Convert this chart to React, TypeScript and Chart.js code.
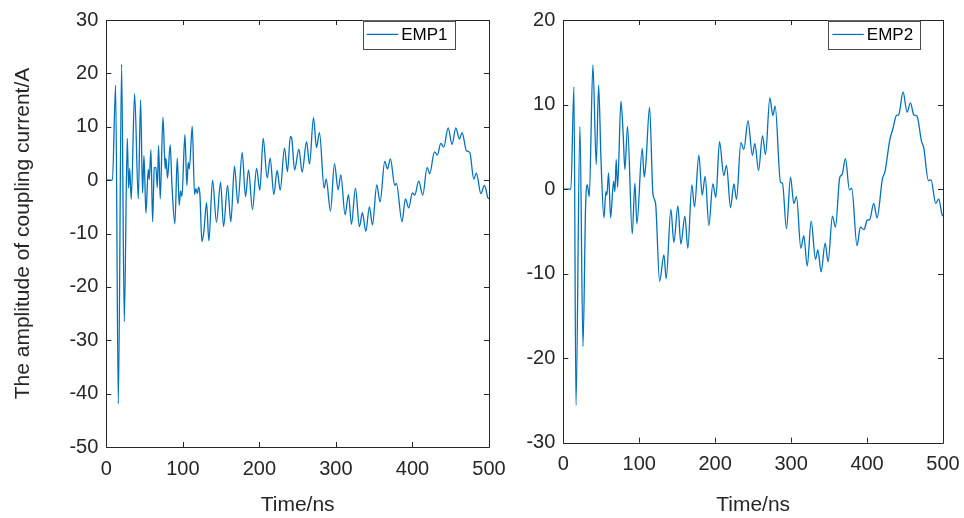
import React, { useEffect, useRef } from "react";
import { Chart, registerables } from "chart.js";

Chart.register(...registerables);

// ---------------- data ----------------
const TIME_EMP1 = [
  0, 8, 12.2, 15.7, 20, 23.5, 27.4, 29.2, 30.5, 32.6, 37, 41.8, 44.8, 47.4, 49.2, 51.8, 54.8, 56.1, 58.3, 60.5,
  62.7, 64.8, 66.6, 68.3, 70.5, 74, 77, 77.9, 80, 83.5, 85.7, 89.6, 92.7, 95.3, 97, 98.8, 102.7, 105.3, 107, 108.5,
  112.3, 115.3, 117, 119, 120.5, 122.3, 124.9, 127.5, 131, 134, 138.8, 144, 149.3, 153.2, 158.4, 162.7, 167.5, 171.9, 177.5, 181.9,
  185.8, 191, 196.3, 200.6, 205, 210.2, 214.1, 218.9, 223.2, 227.2, 232.8, 236.7, 240.5, 242.5, 246, 251.6, 255.9, 261.6, 265.5, 270.7,
  274.6, 278.5, 284.6, 287.3, 292.9, 298.1, 302.9, 306.4, 312, 316.4, 320.3, 325.5, 330.7, 334.6, 339, 343.8, 347.7, 353.4, 357.7, 363.8,
  367.3, 371.2, 376.9, 379, 386.4, 390.8, 395.1, 399.9, 403, 408.2, 413.5, 419.1, 422.6, 428.7, 432.6, 437, 440.9, 446.6, 451.8, 456.6,
  461.4, 464.9, 470.5, 474.9, 480.1, 483.6, 489.3, 494.1, 498.5, 500,
];
const EMP1 = [
  0, 0, 17.8, -41.9, 21.7, -26.5, 7.8, -1.5, 2.2, -3.6, 16.2, -3.5, 15, -2.4, 4.6, -6.2, 2, 0.1, 5.7, -7.8,
  2.3, 2.4, -1.4, 6.5, -3.5, 11.8, 2.1, 4.1, 0.4, 6.6, -0.7, -8.2, 4.1, -4.7, -2, -3.1, 8.5, -1, 3.3, 2.1,
  10.1, -2.7, -1.6, -2.5, -1.3, -2.7, -11.5, -9.6, -4.2, -11.4, 0, -7.9, -0.4, -8.7, -1, -7.8, 2.6, -4.4, 5.2, -3.1,
  1.9, -5.5, 2.2, -1.9, 7.8, 0.4, 4.1, -2.7, 1.8, -1.9, 6, 1.6, 8.2, 7.6, 1.9, 5.8, 1.5, 7.2, 3, 11.7,
  6.1, 8.9, -1.5, 0.2, -5.8, 3.1, -1.8, 1, -6.5, -2.7, -8.3, -1.5, -8.7, -6.1, -9.6, -5, -8.4, -0.9, -4.1, 3.5,
  2.1, 4, -1, -0.6, -7.8, -3.5, -5.2, -2.4, -2.8, -0.2, -2.8, 2.4, 1.2, 5.3, 4.7, 6.9, 6.2, 9.8, 6.7, 9.8,
  7.7, 8.9, 5.5, 5.2, 0.2, 1.3, -2.5, -1, -3.3, -3.5,
];

const TIME_EMP2 = [
  0, 10, 14, 16.7, 21.9, 25.9, 29.4, 31.6, 34.2, 39, 43.4, 46.5, 49.6, 53.5, 56.1, 57.4, 59.6, 62.3, 66.2, 67.9,
  69.7, 71.5, 75.9, 78.9, 81.1, 84.6, 90.8, 94.3, 96.9, 103.9, 106.6, 108.8, 113.6, 118, 121.5, 126.8, 132.5, 135.5, 141.7, 145.6,
  150.9, 154.8, 160.1, 164, 169.3, 172.8, 178.5, 182.9, 186.8, 191.7, 196.9, 200.9, 205.7, 211.4, 214.9, 220.2, 224.6, 228.1, 233.8, 237.8,
  243.2, 249, 252.2, 257.1, 262.3, 266.3, 272, 275.9, 279, 286, 288.6, 293.9, 299.2, 303.6, 307.1, 312.8, 316.7, 321.2, 326.4, 332.1,
  335.2, 339.5, 344.8, 348.7, 354.4, 358.4, 364.1, 367.1, 371.5, 376.8, 379.8, 386.8, 391.2, 396, 400, 403.5, 408.8, 413.2, 420.2, 423.7,
  429.9, 434.2, 438.6, 441.7, 447.4, 452.7, 457.1, 461.5, 465.9, 471.6, 474.6, 480.8, 484.3, 490.4, 494.4, 498.7, 500,
];
const EMP2 = [
  0, 0, 12.1, -25.6, 7.4, -18.6, -1.9, 0.5, -0.9, 14.7, 2.9, 12.3, 3.6, -3.4, -0.3, -0.7, 1.9, -3.4, 0.9, -0.3,
  3.5, 0.2, 10.4, 6.4, 2.3, 7.4, -5.3, 0.7, -4.1, 4.8, 1.4, 3.1, 9.7, -0.5, -1.7, -10.9, -7.8, -10.6, -2.4, -6.3,
  -2, -6.5, -3.2, -7, 0.5, -2.1, 4, -0.7, 1.5, -4.3, 0.6, -1, 5.6, 1.6, 2.8, -2.2, 0.6, -1.2, 5.5, 4.7,
  8.1, 4, 5.4, 2.2, 6.3, 4.1, 10.8, 8.7, 9.8, 0.8, 0.7, -4.7, 1.4, -1.7, -0.9, -7, -5.5, -9.1, -3.8, -8.3,
  -7.2, -9.8, -6.4, -8.6, -3.2, -4.5, 1.4, 1.7, 3.6, -0.1, 0.1, -6.7, -4.5, -4.8, -3.7, -3.6, -1.7, -3.4, 1.2, 2.1,
  5.8, 7.2, 8.7, 8.8, 11.5, 9.1, 10.2, 8.8, 8.6, 5.7, 4.9, 1, 1.1, -1.7, -1.2, -3, -3.2,
];

const SERIES_NAMES = ["EMP1", "EMP2"];
const X_TICKS = [0, 100, 200, 300, 400, 500];
const Y_TICKS_EMP1 = [-50, -40, -30, -20, -10, 0, 10, 20, 30];
const Y_TICKS_EMP2 = [-30, -20, -10, 0, 10, 20];
const X_TITLE = "Time/ns";
const Y_TITLE = "The amplitude of coupling current/A";

// ---------------- styling ----------------
const FONT = "'Liberation Sans', Arial, Helvetica, sans-serif";
const AXIS_COLOR = "#262626";
const LINE_COLOR = "#0072BD";

const boxPlugin = {
  id: "boxTicks",
  afterDatasetsDraw(chart: any) {
    const { ctx, chartArea: a, scales } = chart;
    const len = 5;
    ctx.save();
    ctx.strokeStyle = AXIS_COLOR;
    ctx.lineWidth = 1;
    ctx.beginPath();
    ctx.rect(Math.round(a.left) + 0.5, Math.round(a.top) + 0.5, Math.round(a.right - a.left), Math.round(a.bottom - a.top));
    ctx.stroke();
    ctx.beginPath();
    scales.x.ticks.forEach((t: any) => {
      const px = Math.round(scales.x.getPixelForValue(t.value)) + 0.5;
      ctx.moveTo(px, a.bottom);
      ctx.lineTo(px, a.bottom - len);
      ctx.moveTo(px, a.top);
      ctx.lineTo(px, a.top + len);
    });
    scales.y.ticks.forEach((t: any) => {
      const py = Math.round(scales.y.getPixelForValue(t.value)) + 0.5;
      ctx.moveTo(a.left, py);
      ctx.lineTo(a.left + len, py);
      ctx.moveTo(a.right, py);
      ctx.lineTo(a.right - len, py);
    });
    ctx.stroke();
    ctx.restore();
  },
  afterDraw(chart: any) {
    const opts = chart.options.plugins.boxTicks;
    if (!opts) return;
    const { ctx, chartArea: a } = chart;
    const w = opts.width;
    const h = 27.5;
    const right = a.right - opts.rightOffset;
    const left = right - w;
    const top = a.top + 0.7;
    ctx.save();
    ctx.fillStyle = "#ffffff";
    ctx.fillRect(left, top, w, h);
    ctx.strokeStyle = "#4a4a4a";
    ctx.lineWidth = 1;
    ctx.strokeRect(Math.round(left) + 0.5, Math.round(top) + 0.5, Math.round(w), Math.round(h));
    const cy = top + h / 2;
    ctx.strokeStyle = LINE_COLOR;
    ctx.lineWidth = 1.2;
    ctx.beginPath();
    ctx.moveTo(left + 4, cy);
    ctx.lineTo(left + 35.5, cy);
    ctx.stroke();
    ctx.fillStyle = "#000000";
    ctx.font = `17px ${FONT}`;
    ctx.textBaseline = "middle";
    ctx.textAlign = "left";
    ctx.fillText(opts.label, left + 38.5, cy + 1);
    ctx.restore();
  },
};

type PanelProps = {
  times: number[];
  values: number[];
  label: string;
  yTicks: number[];
  showYTitle: boolean;
  canvasLeft: number;
  canvasWidth: number;
  yWidth: number;
  xHeight: number;
  padRight: number;
  legendRight: number;
  legendWidth: number;
};

function Panel(p: PanelProps) {
  const ref = useRef<HTMLCanvasElement | null>(null);
  useEffect(() => {
    if (!ref.current) return;
    const data = p.times.map((t, i) => ({ x: t, y: p.values[i] }));
    const chart = new Chart(ref.current, {
      type: "line",
      data: {
        datasets: [
          {
            label: p.label,
            data,
            borderColor: LINE_COLOR,
            borderWidth: 1.3,
            pointRadius: 0,
            fill: false,
            cubicInterpolationMode: "monotone",
          },
        ],
      },
      plugins: [boxPlugin],
      options: {
        animation: false,
        responsive: false,
        devicePixelRatio: 1,
        parsing: false as any,
        layout: { padding: { left: 0, top: 13.3, right: p.padRight, bottom: 0 } },
        plugins: {
          legend: { display: false },
          tooltip: { enabled: false },
          boxTicks: { label: p.label, rightOffset: p.legendRight, width: p.legendWidth },
        } as any,
        scales: {
          x: {
            type: "linear",
            min: X_TICKS[0],
            max: X_TICKS[X_TICKS.length - 1],
            afterBuildTicks: (s: any) => {
              s.ticks = X_TICKS.map((v) => ({ value: v }));
            },
            ticks: {
              color: AXIS_COLOR,
              font: { size: 20, family: FONT },
              padding: 10,
              maxRotation: 0,
              autoSkip: false,
            },
            grid: { display: false, drawTicks: false },
            border: { display: false },
            title: {
              display: true,
              text: X_TITLE,
              color: AXIS_COLOR,
              font: { size: 21, family: FONT },
              padding: { top: 0, bottom: 0 },
            },
            afterFit: (s: any) => {
              s.height = p.xHeight;
            },
          },
          y: {
            type: "linear",
            min: p.yTicks[0],
            max: p.yTicks[p.yTicks.length - 1],
            afterBuildTicks: (s: any) => {
              s.ticks = p.yTicks.map((v) => ({ value: v }));
            },
            ticks: {
              color: AXIS_COLOR,
              font: { size: 20, family: FONT },
              padding: 8,
              autoSkip: false,
            },
            grid: { display: false, drawTicks: false },
            border: { display: false },
            title: {
              display: p.showYTitle,
              text: Y_TITLE,
              color: AXIS_COLOR,
              font: { size: 21, family: FONT },
              padding: { top: 10.5, bottom: 0 },
            },
            afterFit: (s: any) => {
              s.width = p.yWidth;
            },
          },
        },
      } as any,
    });
    return () => chart.destroy();
  }, []);
  return (
    <canvas
      ref={ref}
      width={p.canvasWidth}
      height={518}
      style={{ position: "absolute", left: p.canvasLeft, top: 0, width: p.canvasWidth, height: 518 }}
    />
  );
}

export default function App() {
  return (
    <div style={{ position: "fixed", left: 0, top: 0, width: 964, height: 518, background: "#ffffff", overflow: "hidden" }}>
      <Panel
        times={TIME_EMP1}
        values={EMP1}
        label={SERIES_NAMES[0]}
        yTicks={Y_TICKS_EMP1}
        showYTitle={true}
        canvasLeft={0}
        canvasWidth={525}
        yWidth={106.3}
        xHeight={71}
        padRight={36}
        legendRight={34}
        legendWidth={92.3}
      />
      <Panel
        times={TIME_EMP2}
        values={EMP2}
        label={SERIES_NAMES[1]}
        yTicks={Y_TICKS_EMP2}
        showYTitle={false}
        canvasLeft={500}
        canvasWidth={490}
        yWidth={63.3}
        xHeight={75.3}
        padRight={47}
        legendRight={23}
        legendWidth={91.7}
      />
    </div>
  );
}
